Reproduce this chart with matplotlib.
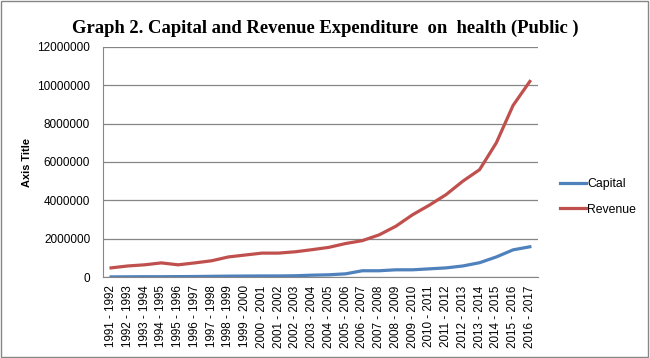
import matplotlib
matplotlib.use('Agg')
import matplotlib.pyplot as plt
from matplotlib.patches import Rectangle

# dados
anos = ['1991 - 1992', '1992 - 1993', '1993 - 1994', '1994 - 1995', '1995 - 1996',
        '1996 - 1997', '1997 - 1998', '1998 - 1999', '1999 - 2000', '2000 - 2001',
        '2001 - 2002', '2002 - 2003', '2003 - 2004', '2004 - 2005', '2005 - 2006',
        '2006 - 2007', '2007 - 2008', '2008 - 2009', '2009 - 2010', '2010 - 2011',
        '2011 - 2012', '2012 - 2013', '2013 - 2014', '2014 - 2015', '2015 - 2016',
        '2016 - 2017']
capital = [10000, 15000, 20000, 20000, 25000, 30000, 40000, 50000, 55000, 60000,
           60000, 70000, 100000, 120000, 170000, 330000, 330000, 380000, 380000,
           430000, 480000, 580000, 750000, 1050000, 1420000, 1580000]
revenue = [480000, 580000, 640000, 740000, 640000, 740000, 850000, 1050000, 1150000,
           1250000, 1250000, 1320000, 1430000, 1550000, 1750000, 1900000, 2200000,
           2650000, 3250000, 3750000, 4300000, 5000000, 5600000, 7000000, 8950000,
           10200000]
yticks = [0, 2000000, 4000000, 6000000, 8000000, 10000000, 12000000]

fig = plt.figure(figsize=(6.5, 3.58), dpi=100)
ax = fig.add_axes([0.158, 0.226, 0.67, 0.643])

x = range(len(anos))
ax.plot(x, capital, color='#4F81BD', lw=2.3, label='Capital')
ax.plot(x, revenue, color='#C0504D', lw=2.3, label='Revenue')

ax.set_xlim(-0.5, len(anos) - 0.5)
ax.set_ylim(0, 12000000)
ax.set_yticks(yticks)
ax.set_yticklabels([str(v) for v in yticks], fontsize=8.5, family='Liberation Sans')
ax.set_xticks(list(x))
ax.set_xticklabels(anos, rotation=90, fontsize=8.4, family='Liberation Sans')
ax.tick_params(length=0, pad=6)
ax.tick_params(axis='y', pad=9)
ax.grid(axis='y', color='#868686', lw=0.9)
ax.set_axisbelow(True)
for s in ['top', 'right']:
    ax.spines[s].set_visible(False)
ax.spines['left'].set_color('#868686')
ax.spines['bottom'].set_color('#868686')

fig.text(0.042, 0.547, 'Axis Title', rotation=90, ha='center', va='center',
         fontsize=7.9, fontweight='bold', family='Liberation Sans')
fig.text(0.5, 0.922, 'Graph 2. Capital and Revenue Expenditure  on  health (Public )',
         ha='center', va='center', fontsize=13.4, fontweight='bold', family='Liberation Serif')

fig.legend(loc='center left', bbox_to_anchor=(0.845, 0.45), frameon=False,
           prop={'family': 'Liberation Sans', 'size': 8.8}, handlelength=2.1,
           handletextpad=0.1, labelspacing=1.1)

fig.patches.append(Rectangle((0.002, 0.003), 0.995, 0.994, transform=fig.transFigure,
                             fill=False, edgecolor='#868686', lw=1))

plt.savefig('out.png', dpi=100)
